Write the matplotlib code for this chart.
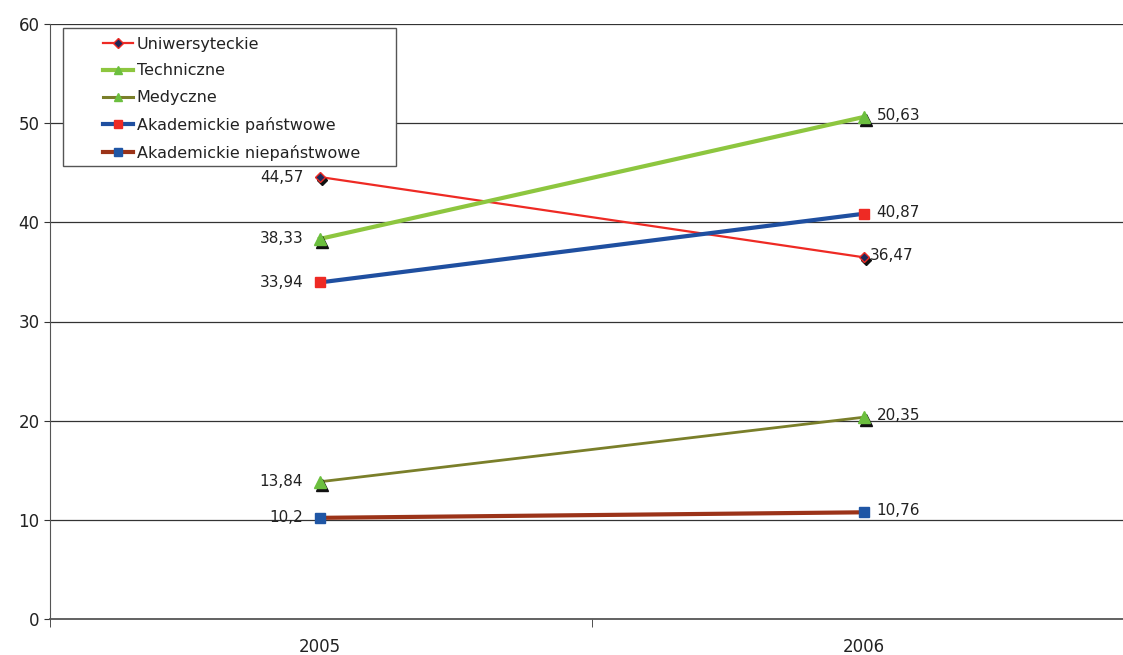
import matplotlib
matplotlib.use("Agg")
import matplotlib.pyplot as plt
import matplotlib.transforms as mtransforms
from matplotlib.lines import Line2D
from matplotlib.patches import Rectangle

years = ["2005", "2006"]
series_names = ["Uniwersyteckie", "Techniczne", "Medyczne",
                "Akademickie państwowe", "Akademickie niepaństwowe"]
uniwersyteckie = [44.57, 36.47]
techniczne = [38.33, 50.63]
medyczne = [13.84, 20.35]
akad_panstwowe = [33.94, 40.87]
akad_niepanstwowe = [10.2, 10.76]
labels_2005 = ["44,57", "38,33", "13,84", "33,94", "10,2"]
labels_2006 = ["36,47", "50,63", "20,35", "40,87", "10,76"]

values = [uniwersyteckie, techniczne, medyczne, akad_panstwowe, akad_niepanstwowe]
line_colors = ["#ee2a24", "#8dc63f", "#7a7f2a", "#1f4fa0", "#9b3318"]
line_widths = [1.6, 3.0, 2.0, 3.0, 3.0]
markers = ["D", "^", "^", "s", "s"]
marker_face = ["#1f2a5a", "#6cbf3f", "#6cbf3f", "#ee2a24", "#1f56a5"]
marker_edge = ["#ee2a24", "#6cbf3f", "#6cbf3f", "#ee2a24", "#1f56a5"]
marker_size = [5, 8, 8, 7, 7]
shadow = [True, True, True, False, False]

W, H = 1123, 655
fig = plt.figure(figsize=(W/100, H/100), dpi=100)
ax = fig.add_axes([50/W, 1 - 619/H, 1 - 50/W, (619-24)/H])

x = [0, 1]
ax.set_xlim(-0.496, 1.476)
ax.set_ylim(0, 60)
ax.set_yticks(range(0, 61, 10))
for yv in range(10, 61, 10):
    ax.axhline(yv, color="#333333", lw=0.9, zorder=1)

for i, v in enumerate(values):
    ax.plot(x, v, color=line_colors[i], lw=line_widths[i], zorder=3)
    if shadow[i]:
        tr = mtransforms.offset_copy(ax.transData, fig=fig, x=2, y=-3, units="dots")
        ax.plot(x, v, ls="none", marker=markers[i], ms=marker_size[i],
                color="#111111", transform=tr, zorder=4)
    ax.plot(x, v, ls="none", marker=markers[i], ms=marker_size[i],
            mfc=marker_face[i], mec=marker_edge[i], mew=1.0, zorder=5)

for i, v in enumerate(values):
    ax.annotate(labels_2005[i], (0, v[0]), xytext=(-12, 0), textcoords="offset points",
                ha="right", va="center", fontsize=11, color="#222222")
    off = 4 if i == 0 else 9
    ax.annotate(labels_2006[i], (1, v[1]), xytext=(off, 1), textcoords="offset points",
                ha="left", va="center", fontsize=11, color="#222222")

ax.set_xticks([0, 1])
ax.set_xticklabels(years, fontsize=12, color="#222222")
ax.tick_params(axis="x", length=0, pad=14)
ax.set_xticks([-0.496, 0.5], minor=True)
ax.tick_params(axis="x", which="minor", length=6, color="#333333", direction="out")
ax.tick_params(axis="y", length=4, direction="out", labelsize=12, labelcolor="#222222", color="#333333")

for s in ["top", "right"]:
    ax.spines[s].set_visible(False)
ax.spines["left"].set_color("#555555")
ax.spines["bottom"].set_color("#555555")
ax.spines["bottom"].set_linewidth(1.3)

# legend frame
rect = Rectangle((63/W, 1 - 166/H), (396-63)/W, (166-28)/H, transform=fig.transFigure,
                 facecolor="white", edgecolor="#555555", lw=1.0, zorder=9)
fig.add_artist(rect)

handles = []
for i in range(5):
    handles.append(Line2D([0], [0], color=line_colors[i], lw=(1.6 if i == 0 else 3.0) if i != 2 else 2.2,
                          marker=markers[i], ms=5 if i == 0 else 6, mfc=marker_face[i],
                          mec=marker_edge[i]))
leg = fig.legend(handles, series_names, loc="upper left",
                 bbox_to_anchor=(103/W, 1 - 36.5/H), bbox_transform=fig.transFigure,
                 fontsize=11.5, frameon=False, handlelength=1.87,
                 labelspacing=0.74, borderpad=0.0, handletextpad=0.25, borderaxespad=0)
leg.set_zorder(10)
for t in leg.get_texts():
    t.set_color("#222222")

fig.savefig("out.png", dpi=100)
